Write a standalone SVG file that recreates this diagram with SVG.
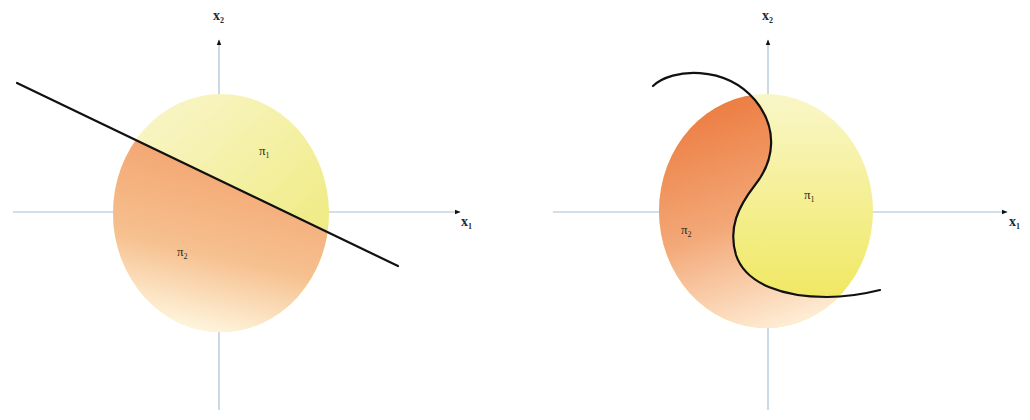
<svg xmlns="http://www.w3.org/2000/svg" width="1030" height="420" viewBox="0 0 1030 420">
<style>
.axis{stroke:#a9c1d3;stroke-width:1.2;fill:none}
.bound{stroke:#111;stroke-width:2.2;fill:none;stroke-linecap:round}
.lbl{font-family:"Liberation Serif",serif;font-weight:bold;font-size:14px;fill:#1c2a36}
.sub{font-size:8px}
.pi{font-family:"Liberation Serif",serif;font-size:13px;fill:#2a2a1a}
</style>
<defs>
<marker id="arr" viewBox="0 0 10 10" refX="9" refY="5" markerWidth="6" markerHeight="6" orient="auto" markerUnits="userSpaceOnUse">
<path d="M0,1 L10,5 L0,9 Z" fill="#111"/>
</marker>
<clipPath id="cl"><ellipse cx="221" cy="213" rx="108" ry="119"/></clipPath>
<clipPath id="cr"><ellipse cx="766" cy="211" rx="107" ry="117"/></clipPath>
<linearGradient id="yl" gradientUnits="userSpaceOnUse" x1="200" y1="95" x2="320" y2="240">
<stop offset="0" stop-color="#f8f4c0"/><stop offset="1" stop-color="#efeb82"/>
</linearGradient>
<linearGradient id="ol" gradientUnits="userSpaceOnUse" x1="240" y1="160" x2="200" y2="335">
<stop offset="0" stop-color="#f3a672"/><stop offset="0.55" stop-color="#f6c08f"/><stop offset="1" stop-color="#fff8e2"/>
</linearGradient>
<linearGradient id="yr" gradientUnits="userSpaceOnUse" x1="790" y1="100" x2="790" y2="300">
<stop offset="0" stop-color="#f9f6c6"/><stop offset="1" stop-color="#f0e862"/>
</linearGradient>
<linearGradient id="or" gradientUnits="userSpaceOnUse" x1="720" y1="100" x2="800" y2="330">
<stop offset="0" stop-color="#ec7d42"/><stop offset="0.5" stop-color="#f3a878"/><stop offset="1" stop-color="#fff2dc"/>
</linearGradient>
</defs>

<g id="left-panel">
<g id="left-axes">
<line class="axis" x1="219" y1="410" x2="219" y2="40" marker-end="url(#arr)"/>
<line class="axis" x1="13" y1="212" x2="460" y2="212" marker-end="url(#arr)"/>
</g>
<g id="left-region-pi1"><ellipse cx="221" cy="213" rx="108" ry="119" fill="url(#yl)"/></g>
<g id="left-region-pi2"><path d="M0,75 L430,282 L430,420 L0,420 Z" fill="url(#ol)" clip-path="url(#cl)"/></g>
<g id="left-labels">
<text class="lbl" x="213" y="20">x<tspan class="sub" dy="3">2</tspan></text>
<text class="lbl" x="461" y="226">x<tspan class="sub" dy="3">1</tspan></text>
<text class="pi" x="259" y="155">π<tspan class="sub" dy="3">1</tspan></text>
<text class="pi" x="177" y="256">π<tspan class="sub" dy="3">2</tspan></text>
</g>
</g>

<g id="right-panel">
<g id="right-axes">
<line class="axis" x1="768" y1="410" x2="768" y2="40" marker-end="url(#arr)"/>
<line class="axis" x1="553" y1="212" x2="1007" y2="212" marker-end="url(#arr)"/>
</g>
<g id="right-region-pi1"><ellipse cx="766" cy="211" rx="107" ry="117" fill="url(#yr)"/></g>
<g id="right-region-pi2"><path d="M653,86 C672,68 725,65 755,100 C778,128 775,160 755,185 C738,207 728,228 736,255 C746,285 785,297 827,297 C850,297 868,293 880,290 L900,300 L900,420 L600,420 L600,86 Z" fill="url(#or)" clip-path="url(#cr)"/></g>
<g id="right-labels">
<text class="lbl" x="762" y="20">x<tspan class="sub" dy="3">2</tspan></text>
<text class="lbl" x="1009" y="226">x<tspan class="sub" dy="3">1</tspan></text>
<text class="pi" x="804" y="199">π<tspan class="sub" dy="3">1</tspan></text>
<text class="pi" x="681" y="234">π<tspan class="sub" dy="3">2</tspan></text>
</g>
</g>

<g id="connectors">
<line class="bound" x1="17" y1="83" x2="398" y2="266"/>
<path class="bound" d="M653,86 C672,68 725,65 755,100 C778,128 775,160 755,185 C738,207 728,228 736,255 C746,285 785,297 827,297 C850,297 868,293 880,290"/>
</g>
</svg>
